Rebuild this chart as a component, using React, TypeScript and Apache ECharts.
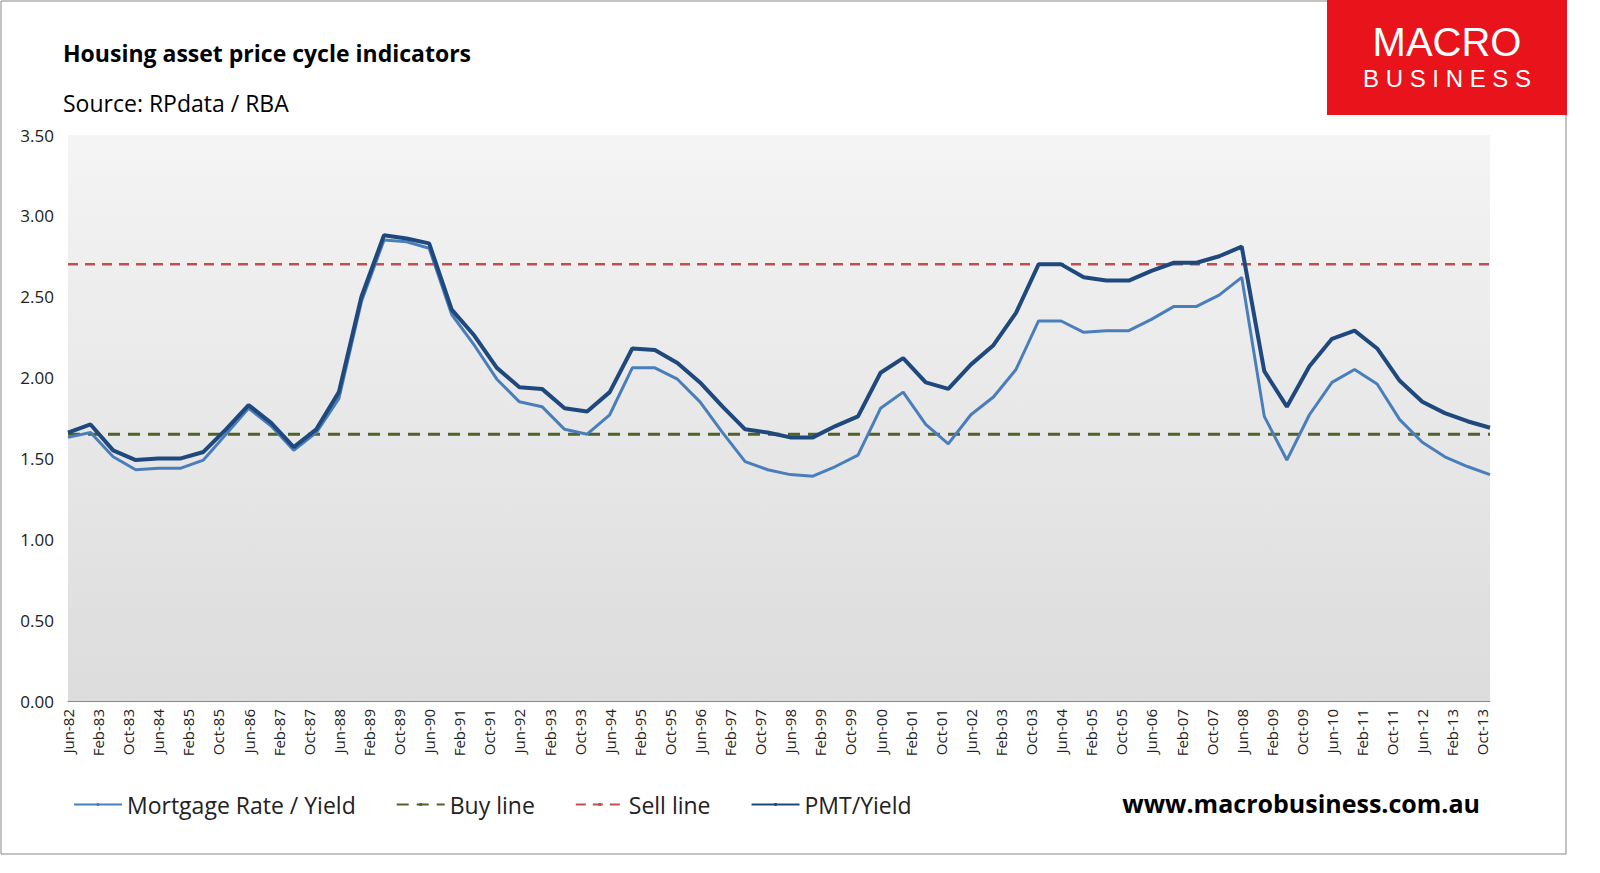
import React, { useEffect, useRef } from "react";
import * as echarts from "echarts";

const MONTHS = ["Jan","Feb","Mar","Apr","May","Jun","Jul","Aug","Sep","Oct","Nov","Dec"];
// monthly categories Jun-82 .. Dec-13
const categories: string[] = [];
for (let y = 1982; y <= 2013; y++) {
  for (let m = 0; m < 12; m++) {
    if (y === 1982 && m < 5) continue;
    categories.push(`${MONTHS[m]}-${String(y % 100).padStart(2, "0")}`);
  }
}
// semi-annual observations (Jun / Dec), starting Jun-82
const mortgageYield = [1.63,1.66,1.51,1.43,1.44,1.44,1.49,1.65,1.81,1.70,1.55,1.66,1.87,2.47,2.85,2.84,2.80,2.39,2.20,1.99,1.85,1.82,1.68,1.65,1.77,2.06,2.06,1.99,1.85,1.66,1.48,1.43,1.40,1.39,1.45,1.52,1.81,1.91,1.71,1.59,1.77,1.88,2.05,2.35,2.35,2.28,2.29,2.29,2.36,2.44,2.44,2.51,2.62,1.76,1.49,1.77,1.97,2.05,1.96,1.74,1.60,1.51,1.45,1.40];
const pmtYield = [1.66,1.71,1.55,1.49,1.50,1.50,1.54,1.68,1.83,1.72,1.57,1.68,1.91,2.50,2.88,2.86,2.83,2.42,2.26,2.06,1.94,1.93,1.81,1.79,1.91,2.18,2.17,2.09,1.97,1.82,1.68,1.66,1.63,1.63,1.70,1.76,2.03,2.12,1.97,1.93,2.08,2.20,2.40,2.70,2.70,2.62,2.60,2.60,2.66,2.71,2.71,2.75,2.81,2.04,1.82,2.07,2.24,2.29,2.18,1.98,1.85,1.78,1.73,1.69];
const buyLine = 1.65;
const sellLine = 2.70;

const FONT = "'Open Sans', 'Liberation Sans', sans-serif";

export default function App() {
  const ref = useRef<HTMLDivElement>(null);
  useEffect(() => {
    const chart = echarts.init(ref.current!, null, { renderer: "svg" });
    const pts = (arr: number[]) => arr.map((v, k) => [categories[k * 6], v]);
    const flat = (v: number) => [[categories[0], v], [categories[categories.length - 1], v]];
    chart.setOption({
      animation: false,
      textStyle: { fontFamily: FONT },
      grid: { left: 68, right: 110, top: 135, bottom: 172 },
      title: [
        { text: "Housing asset price cycle indicators", left: 58, top: 36, textStyle: { fontFamily: FONT, fontSize: 23, fontWeight: "bold", color: "#000" } },
        { text: "Source: RPdata / RBA", left: 58, top: 86, textStyle: { fontFamily: FONT, fontSize: 23, fontWeight: "normal", color: "#000" } },
      ],
      graphic: [
        { type: "rect", shape: { x: 1, y: 1, width: 1565, height: 853 }, style: { fill: "none", stroke: "#888", lineWidth: 1 }, z: -10 },
        { type: "rect", shape: { x: 1327, y: 0, width: 240, height: 115 }, style: { fill: "#e8131b" } },
        { type: "text", x: 1447, y: 22, style: { text: "MACRO", fill: "#fff", font: "40px 'Liberation Sans', sans-serif", textAlign: "center" } },
        { type: "text", x: 1447, y: 66, style: { text: "B U S I N E S S", fill: "#fff", font: "24px 'Liberation Sans', sans-serif", textAlign: "center" } },
        { type: "text", x: 1480, y: 790, style: { text: "www.macrobusiness.com.au", fill: "#000", font: `bold 25px ${FONT}`, textAlign: "right" } },
      ],
      legend: {
        left: 68, top: 788, itemWidth: 48, itemHeight: 4, itemGap: 40,
        textStyle: { fontFamily: FONT, fontSize: 23, color: "#222" },
        data: ["Mortgage Rate / Yield", "Buy line", "Sell line", "PMT/Yield"],
      },
      xAxis: {
        type: "category", data: categories, boundaryGap: false,
        axisLine: { lineStyle: { color: "#888" } },
        axisTick: { show: false },
        axisLabel: { interval: 7, rotate: 90, fontSize: 15, color: "#222", margin: 8, fontFamily: FONT },
        splitLine: { show: false },
      },
      yAxis: {
        type: "value", min: 0, max: 3.5, interval: 0.5,
        axisLabel: { formatter: (v: number) => v.toFixed(2), fontSize: 17, color: "#222", margin: 14, fontFamily: FONT },
        axisLine: { show: false }, axisTick: { show: false },
        splitLine: { lineStyle: { color: "#999", width: 1 } },
        splitArea: { show: false },
      },
      series: [
        { type: "line", name: "__bg", data: [], silent: true,
          markArea: { silent: true, itemStyle: { color: new echarts.graphic.LinearGradient(0, 0, 0, 1, [{ offset: 0, color: "#f4f4f4" }, { offset: 1, color: "#dcdcdc" }]) },
            data: [[{ xAxis: categories[0], yAxis: 3.5 }, { xAxis: categories[categories.length - 1], yAxis: 0 }]] }, z: 0 },
        { type: "line", name: "Mortgage Rate / Yield", data: pts(mortgageYield), symbol: "none", lineStyle: { color: "#4a7ebb", width: 3 }, itemStyle: { color: "#4a7ebb" }, z: 3 },
        { type: "line", name: "Buy line", data: flat(buyLine), symbol: "none", lineStyle: { color: "#4f6228", width: 3, type: [12, 8] }, itemStyle: { color: "#4f6228" }, z: 2 },
        { type: "line", name: "Sell line", data: flat(sellLine), symbol: "none", lineStyle: { color: "#c0504d", width: 2.5, type: [10, 7] }, itemStyle: { color: "#c0504d" }, z: 2 },
        { type: "line", name: "PMT/Yield", data: pts(pmtYield), symbol: "none", lineStyle: { color: "#1f497d", width: 4 }, itemStyle: { color: "#1f497d" }, z: 4 },
      ],
    });
    return () => chart.dispose();
  }, []);
  return <div ref={ref} style={{ position: "fixed", left: 0, top: 0, width: 1600, height: 873, background: "#fff" }} />;
}
